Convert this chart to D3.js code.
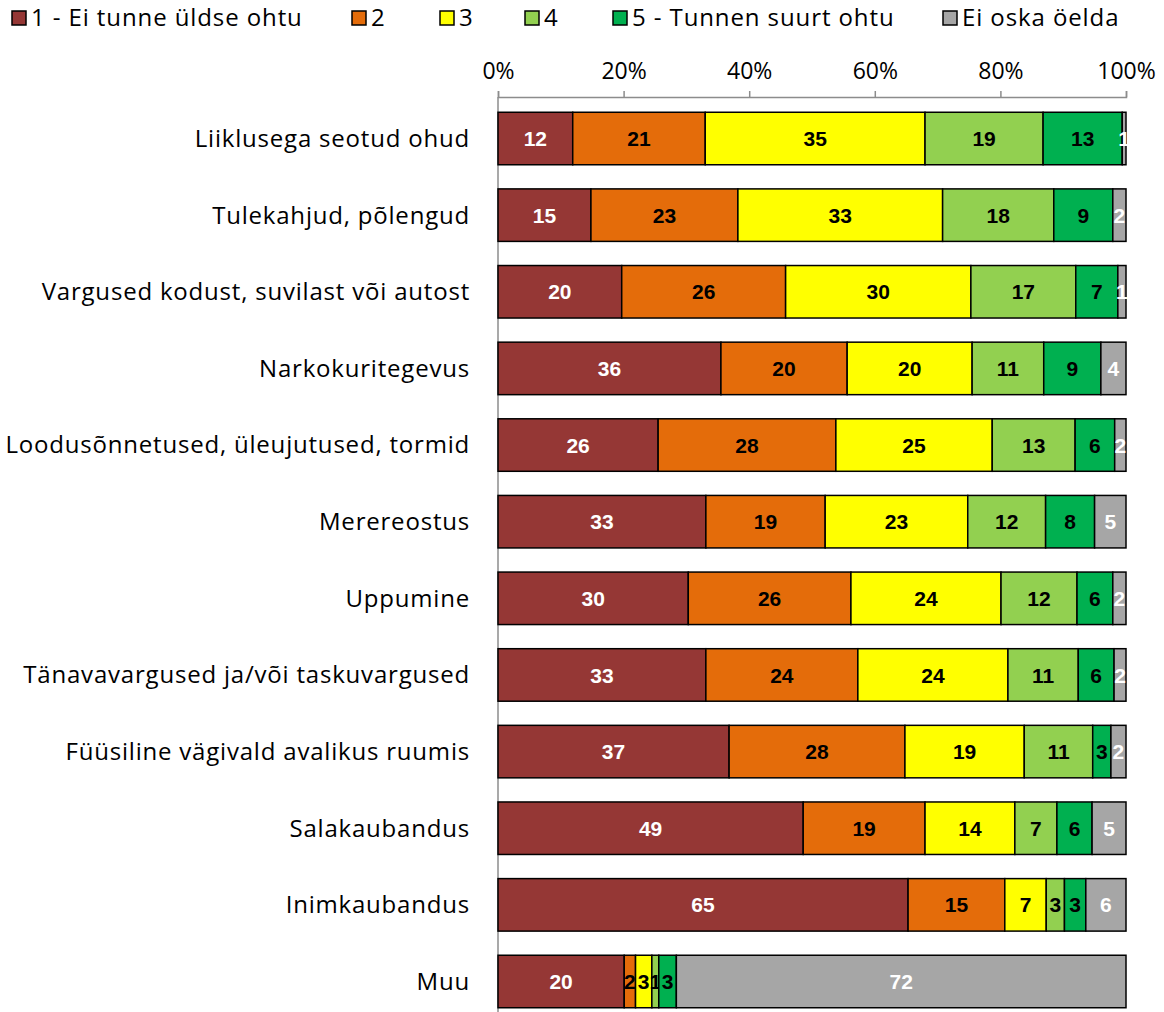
<!DOCTYPE html>
<html>
<head>
<meta charset="utf-8">
<script src="https://cdn.jsdelivr.net/npm/d3@7"></script>
<style>
  body { margin: 0; background: #fff; }
  svg text { font-family: "Open Sans", "Noto Sans", sans-serif; }
  .val { font-family: "Liberation Sans", Arial, sans-serif !important; font-weight: bold; }
</style>
</head>
<body>
<svg id="chart"></svg>
<script>
const categories = [
  "Liiklusega seotud ohud",
  "Tulekahjud, põlengud",
  "Vargused kodust, suvilast või autost",
  "Narkokuritegevus",
  "Loodusõnnetused, üleujutused, tormid",
  "Merereostus",
  "Uppumine",
  "Tänavavargused ja/või taskuvargused",
  "Füüsiline vägivald avalikus ruumis",
  "Salakaubandus",
  "Inimkaubandus",
  "Muu"
];
const seriesNames = ["1 - Ei tunne üldse ohtu", "2", "3", "4", "5 - Tunnen suurt ohtu", "Ei oska öelda"];

// per-category shares (%), in series order
const s1 = [11.9, 14.8, 19.7, 35.5, 25.5, 33.1, 30.3, 33.1, 36.8, 48.6, 65.3, 20.1];
const s2 = [21.1, 23.4, 26.1, 20.1, 28.3, 19.0, 25.9, 24.2, 28.0, 19.4, 15.4, 1.8];
const s3 = [35.0, 32.6, 29.5, 19.9, 24.9, 22.7, 23.9, 23.9, 19.0, 14.3, 6.6, 2.6];
const s4 = [18.8, 17.7, 16.7, 11.4, 13.2, 12.4, 12.1, 11.2, 10.9, 6.7, 2.9, 1.1];
const s5 = [12.6, 9.4, 6.7, 9.1, 6.3, 7.8, 5.7, 5.7, 2.9, 5.6, 3.4, 2.8];
const s6 = [0.6, 2.1, 1.3, 4.0, 1.8, 5.0, 2.1, 1.9, 2.4, 5.4, 6.4, 71.6];
const tickValues = [0, 20, 40, 60, 80, 100];

const colors = ["#953735", "#E46C0A", "#FFFF00", "#92D050", "#00B050", "#A6A6A6"];
const labelColors = ["#fff", "#000", "#000", "#000", "#000", "#fff"];

const width = 1164, height = 1012;
const marginTop = 97, marginLeft = 498, marginRight = 38;

const svg = d3.select("#chart")
    .attr("width", width)
    .attr("height", height)
    .attr("viewBox", [0, 0, width, height]);

const seriesData = [s1, s2, s3, s4, s5, s6];
const rows = categories.map((c, i) => {
    const r = {category: c};
    seriesNames.forEach((k, j) => r[k] = seriesData[j][i]);
    return r;
});
const stacked = d3.stack().keys(seriesNames)(rows);

const xScale = d3.scaleLinear([0, 100], [marginLeft, width - marginRight]);
const yScale = d3.scaleBand(categories, [marginTop + 3, 1020]).paddingInner(0.315).paddingOuter(0.16);

// top axis
const xAxis = d3.axisTop(xScale).tickValues(tickValues).tickFormat(d => d + "%").tickSize(6).tickSizeOuter(6);
const gx = svg.append("g")
    .attr("transform", `translate(0,${marginTop})`)
    .call(xAxis);
gx.selectAll("path, line").attr("stroke", "#8c8c8c").attr("stroke-width", 1.5);
gx.selectAll("text").attr("font-size", 23).attr("fill", "#000").attr("dy", -9)
    .attr("font-family", "Open Sans, sans-serif");

// left axis line
svg.append("line")
    .attr("x1", marginLeft).attr("x2", marginLeft)
    .attr("y1", marginTop).attr("y2", height)
    .attr("stroke", "#8c8c8c").attr("stroke-width", 1.5);

const groups = svg.selectAll(".series")
    .data(stacked)
    .join("g")
    .attr("class", "series")
    .attr("fill", (d, i) => colors[i]);

groups.selectAll("rect")
    .data(d => d.map(p => ({p, cat: p.data.category})))
    .join("rect")
    .attr("x", d => xScale(d.p[0]))
    .attr("y", d => yScale(d.cat))
    .attr("width", d => xScale(d.p[1]) - xScale(d.p[0]))
    .attr("height", yScale.bandwidth())
    .attr("stroke", "#000")
    .attr("stroke-width", 1.5);

groups.each(function(s, i) {
    d3.select(this).selectAll("text")
        .data(s.map(p => ({p, cat: p.data.category})))
        .join("text")
        .attr("class", "val")
        .attr("x", d => (xScale(d.p[0]) + xScale(d.p[1])) / 2)
        .attr("y", d => yScale(d.cat) + yScale.bandwidth() / 2)
        .attr("dy", "0.36em")
        .attr("text-anchor", "middle")
        .attr("font-size", 21)
        .attr("fill", labelColors[i])
        .text(d => Math.round(d.p[1] - d.p[0]));
});

// category labels
svg.selectAll(".cat")
    .data(categories)
    .join("text")
    .attr("class", "cat")
    .attr("x", marginLeft - 28)
    .attr("y", d => yScale(d) + yScale.bandwidth() / 2)
    .attr("dy", "0.35em")
    .attr("text-anchor", "end")
    .attr("font-size", 24)
    .attr("letter-spacing", 0.8)
    .text(d => d);

// legend
const legendX = [12, 352, 440, 525, 613, 943];
const legend = svg.selectAll(".legend")
    .data(seriesNames)
    .join("g")
    .attr("class", "legend")
    .attr("transform", (d, i) => `translate(${legendX[i]},18)`);
legend.append("rect")
    .attr("x", 0).attr("y", -7)
    .attr("width", 14).attr("height", 14)
    .attr("fill", (d, i) => colors[i])
    .attr("stroke", "#000").attr("stroke-width", 1.5);
legend.append("text")
    .attr("x", 19)
    .attr("dy", "0.35em")
    .attr("font-size", 24)
    .attr("letter-spacing", 0.9)
    .text(d => d);
</script>
</body>
</html>
